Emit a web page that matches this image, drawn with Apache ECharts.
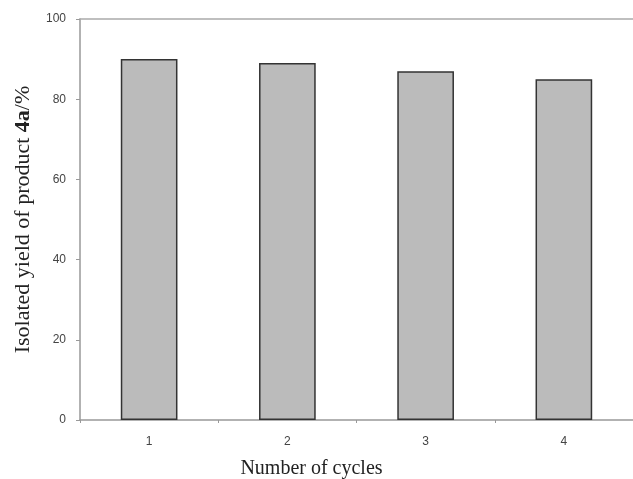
<!DOCTYPE html>
<html>
<head>
<meta charset="utf-8">
<script src="https://cdn.jsdelivr.net/npm/echarts@6/dist/echarts.min.js"></script>
<style>html,body{margin:0;padding:0;background:#fff}#c{width:633px;height:479px}</style>
</head>
<body>
<div id="c"></div>
<script>
const categories = ['1', '2', '3', '4'];
const yieldValues = [90, 89, 87, 85];
const yTicks = [0, 20, 40, 60, 80, 100];

const chart = echarts.init(document.getElementById('c'), null, {renderer: 'canvas'});
chart.setOption({
  animation: false,
  backgroundColor: '#fff',
  grid: {left: 80, right: 0, top: 19, bottom: 59, containLabel: false, outerBoundsMode: 'none'},
  xAxis: [{
    type: 'category',
    data: categories,
    position: 'bottom',
    axisLine: {show: true, lineStyle: {color: '#999', width: 1.5}},
    axisTick: {show: true, alignWithLabel: false, length: 3, lineStyle: {color: '#999'}},
    axisLabel: {margin: 16, color: '#444', fontFamily: 'Liberation Sans', fontSize: 12},
    name: 'Number of cycles',
    nameLocation: 'middle',
    nameGap: 39,
    nameTextStyle: {fontFamily: 'Liberation Serif', fontSize: 20, color: '#222', padding: [0, 90, 0, 0]}
  }, {
    type: 'category',
    data: categories,
    position: 'top',
    axisLine: {show: true, lineStyle: {color: '#aaa', width: 1.5}},
    axisTick: {show: false},
    axisLabel: {show: false}
  }],
  yAxis: {
    type: 'value',
    min: yTicks[0],
    max: yTicks[yTicks.length - 1],
    interval: 20,
    axisLine: {show: true, lineStyle: {color: '#999', width: 1.5}},
    axisTick: {show: true, length: 4, lineStyle: {color: '#999'}},
    splitLine: {show: false},
    axisLabel: {margin: 14, color: '#444', fontFamily: 'Liberation Sans', fontSize: 12},
    name: '{n|Isolated yield of product }{b|4a}{n|/%}',
    nameLocation: 'middle',
    nameGap: 46,
    nameTextStyle: {
      rich: {
        n: {fontFamily: 'Liberation Serif', fontSize: 22, color: '#222'},
        b: {fontFamily: 'Liberation Serif', fontSize: 22, fontWeight: 'bold', color: '#222'}
      }
    }
  },
  series: [{
    type: 'bar',
    data: yieldValues,
    barWidth: '41%',
    itemStyle: {color: '#bbbbbb', borderColor: '#333', borderWidth: 1.5}
  }]
});
</script>
</body>
</html>
